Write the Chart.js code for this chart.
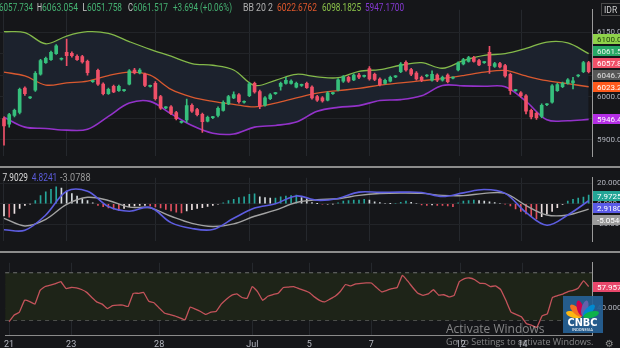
<!DOCTYPE html>
<html>
<head>
<meta charset="utf-8">
<script src="https://cdn.jsdelivr.net/npm/chart.js@4.4.1/dist/chart.umd.min.js"></script>
<style>
  html, body { margin: 0; padding: 0; background: #151619; }
  #wrap { position: relative; width: 620px; height: 348px; overflow: hidden; background: #151619; }
  canvas { position: absolute; left: 0; }
  .sep { position: absolute; left: 0; width: 620px; height: 2px; background: #8c8c8c; }
</style>
</head>
<body>
<div id="wrap">
  <canvas id="price" width="620" height="166" style="top:0"></canvas>
  <div class="sep" style="top:166px"></div>
  <canvas id="macd" width="620" height="83" style="top:168px"></canvas>
  <div class="sep" style="top:251px"></div>
  <canvas id="rsi" width="620" height="95" style="top:253px"></canvas>
</div>
<script>
// hourly bars, index 0..112; day marks on the time axis
const dayTicks = [0, 12, 29, 47, 58, 70, 87.3, 99.2];
const dayLabels = ['21', '23', '28', 'Jul', '5', '7', '12', '14'];

const opens = [
  5949, 5936, 5956, 5963, 6020, 5997, 6015, 6052, 6079, 6086,
  6100, 6087, 6103, 6101, 6094, 6093, 6082, 6035, 6061, 6029,
  6007, 6024, 6014, 6014, 6029, 6062, 6055, 6052, 6024, 6031,
  6000, 5974, 5976, 5963, 5940, 5946, 5980, 5970, 5959, 5943,
  5951, 5956, 5968, 5983, 5997, 6004, 5987, 6002, 6031, 6012,
  5980, 5995, 6007, 6024, 6031, 6031, 6022, 6026, 6031, 6022,
  6000, 5997, 5992, 6007, 6015, 6036, 6045, 6039, 6050, 6047,
  6065, 6052, 6041, 6031, 6036, 6046, 6058, 6080, 6063, 6055,
  6045, 6048, 6038, 6050, 6038, 6050, 6043, 6062, 6076, 6082,
  6091, 6084, 6079, 6103, 6070, 6077, 6072, 6052, 6014, 6009,
  6002, 5968, 5961, 5954, 5981, 5987, 6014, 6023, 6031, 6032,
  6048, 6058, 6079
];
const highs = [
  5953, 5961, 5971, 6020, 6023, 6000, 6058, 6087, 6092, 6106,
  6121, 6090, 6134, 6104, 6097, 6096, 6085, 6038, 6064, 6032,
  6020, 6027, 6027, 6017, 6063, 6066, 6065, 6055, 6027, 6035,
  6003, 5977, 5979, 5966, 5943, 5994, 5983, 5973, 5962, 5955,
  5954, 5976, 5990, 6003, 6011, 6007, 5990, 6033, 6034, 6015,
  6000, 6007, 6010, 6034, 6045, 6039, 6034, 6029, 6034, 6025,
  6003, 6000, 6012, 6010, 6042, 6049, 6048, 6053, 6054, 6050,
  6070, 6055, 6044, 6041, 6048, 6049, 6079, 6083, 6066, 6058,
  6048, 6051, 6060, 6053, 6048, 6053, 6046, 6081, 6089, 6094,
  6094, 6087, 6082, 6117, 6080, 6080, 6075, 6055, 6017, 6012,
  6005, 5971, 5964, 5983, 5984, 6028, 6031, 6034, 6042, 6045,
  6051, 6082, 6082
];
const lows = [
  5887, 5929, 5953, 5960, 6003, 5995, 6012, 6050, 6077, 6084,
  6098, 6085, 6072, 6092, 6084, 6078, 6050, 6033, 6026, 6004,
  6005, 6009, 6012, 6012, 6027, 6053, 6053, 6023, 6022, 5992,
  5970, 5972, 5958, 5946, 5938, 5940, 5963, 5955, 5917, 5941,
  5949, 5953, 5966, 5981, 5995, 5985, 5985, 6000, 6008, 5972,
  5978, 5993, 6005, 6015, 6029, 6029, 6020, 6024, 6019, 5994,
  5989, 5987, 5990, 6005, 6013, 6033, 6033, 6037, 6042, 6045,
  6038, 6037, 6025, 6029, 6034, 6044, 6056, 6059, 6049, 6038,
  6035, 6046, 6036, 6035, 6036, 6032, 6041, 6060, 6074, 6080,
  6080, 6072, 6077, 6054, 6068, 6067, 6045, 6005, 6012, 5999,
  5960, 5948, 5947, 5951, 5979, 5985, 6012, 6021, 6029, 6018,
  6046, 6056, 6055
];
const closes = [
  5932, 5958, 5968, 6017, 6007, 5998, 6054, 6084, 6089, 6103,
  6118, 6088, 6095, 6095, 6086, 6081, 6056, 6036, 6029, 6007,
  6017, 6011, 6024, 6015, 6060, 6055, 6062, 6026, 6025, 5995,
  5973, 5975, 5961, 5949, 5941, 5979, 5966, 5958, 5942, 5952,
  5952, 5973, 5987, 6000, 6005, 5988, 5988, 6030, 6011, 5978,
  5997, 6004, 6008, 6031, 6038, 6036, 6031, 6027, 6021, 5997,
  5992, 5990, 6009, 6008, 6039, 6046, 6036, 6050, 6045, 6048,
  6041, 6040, 6028, 6038, 6045, 6047, 6076, 6062, 6052, 6041,
  6038, 6049, 6052, 6038, 6045, 6035, 6044, 6078, 6086, 6091,
  6082, 6074, 6080, 6072, 6077, 6069, 6048, 6014, 6015, 6002,
  5966, 5953, 5951, 5980, 5982, 6025, 6028, 6031, 6039, 6037,
  6049, 6079, 6058
];

// Bollinger bands and MACD lines, read every 4th bar
const lineIdx = [0, 4, 8, 12, 16, 20, 24, 28, 32, 36, 40, 44, 48, 52, 56,
  60, 64, 68, 72, 76, 80, 84, 88, 92, 96, 100, 104, 108, 112];
const bbUpper = [6151, 6149, 6123, 6141, 6151, 6147, 6128, 6110, 6094, 6077,
  6073, 6062, 6026, 6038, 6052, 6046, 6044, 6059, 6063, 6073,
  6079, 6066, 6084, 6096, 6100, 6112, 6127, 6125, 6100];
const bbMiddle = [6057, 6048, 6027, 6032, 6036, 6049, 6057, 6050, 6017, 5999,
  5989, 5982, 5976, 5985, 5997, 6008, 6014, 6019, 6027, 6032,
  6037, 6042, 6049, 6057, 6061, 6048, 6037, 6030, 6023];
const bbLower = [5952, 5929, 5926, 5922, 5924, 5954, 5985, 5989, 5960, 5933,
  5915, 5913, 5929, 5933, 5941, 5966, 5975, 5979, 5991, 5993,
  6002, 6026, 6025, 6024, 6023, 5989, 5946, 5944, 5947];
const macdLine = [-25.2, -25.7, -10.9, 12.1, 12.1, -2.7, -7.2, -3.5, -18.3, -24,
  -25, -14.1, -4.2, 0, 7.6, 3.4, 5.2, 11.3, 11.1, 11.3,
  10.9, 7.1, 10.6, 13.8, 10.1, -8.4, -20.8, -10.9, 2.9];
const macdSignal = [-14.1, -21.5, -15.1, -0.6, 6.3, 3.2, -3.2, -4, -12.1, -19,
  -22, -19.5, -12.1, -6.2, 1.2, 3.9, 4.9, 8.1, 9.9, 10.4,
  10.1, 8.1, 7.9, 10.1, 10.1, -1.7, -10.9, -10.9, -5.2];
const macdHist = [
  -11.9, -13.1, -9.4, -4.4, -1.5, -0.2, 3.0, 7.9, 11.6, 14.1,
  16.5, 15.3, 12.4, 9.9, 7.4, 4.9, 3.0, 1.0, -1.5, -2.7,
  -4.0, -5.2, -6.4, -4.4, -2.7, -2.0, -1.5, -1.5, -2.0, -3.0,
  -4.0, -5.4, -6.9, -8.2, -8.9, -6.9, -5.7, -4.4, -3.7, -2.5,
  -1.5, -0.5, 1.0, 3.0, 4.2, 5.9, 6.7, 9.1, 9.6, 6.7,
  5.9, 5.4, 5.4, 6.7, 7.4, 7.9, 8.4, 5.9, 4.9, 1.2,
  0.2, -0.5, -0.5, -0.2, 1.0, 2.5, 3.0, 3.7, 3.7, 4.4,
  3.7, 2.0, 1.2, 0.5, 0.1, 0.5, 1.5, 2.5, 1.5, 0.5,
  -1.0, -1.5, -1.2, -1.5, -1.7, -2.2, -2.7, 1.0, 2.5, 3.2,
  3.7, 3.0, 2.5, 2.0, 1.2, 0.5, -0.2, -2.0, -4.9, -7.4,
  -9.9, -12.4, -14.8, -12.4, -9.9, -7.4, -3.7, -0.7, 2.5, 4.2,
  5.4, 6.4, 8.4
];
const rsiValues = [
  28.8, 34.4, 36.9, 46.8, 45.8, 43.6, 55.2, 58.4, 59.6, 60.9,
  62.6, 56.7, 57.6, 57.2, 55.9, 53.5, 49.2, 45.3, 43.6, 39.9,
  42.3, 42.8, 42.8, 41.6, 52.7, 52.7, 53.4, 46, 44.8, 40.4,
  36.2, 34.9, 33.7, 32, 30.5, 41.1, 39.4, 37.4, 34.9, 36.9,
  37.4, 43.6, 47.8, 51, 52.2, 49.2, 48.5, 58.4, 54.2, 46.8,
  50.2, 51.7, 52.7, 57.6, 57.9, 58.4, 56.7, 55.2, 53.4, 49.7,
  46.8, 45.5, 47.8, 50.2, 54.2, 60.1, 58.9, 60.6, 61.1, 61.4,
  61.4, 57.6, 53.9, 55.2, 56.7, 57.6, 67.8, 63.1, 57.6, 52.7,
  51, 52.2, 55.7, 51.2, 51.5, 49.7, 51, 62.6, 65.1, 65.6,
  64.1, 61.1, 60.9, 58.4, 58.9, 55.9, 46.8, 36.9, 34.9, 32.9,
  27, 25.8, 24.1, 33.7, 35.4, 49.2, 50.7, 52, 54.2, 55.2,
  57.2, 63.1, 58.4
];
const rsiLevels = [70, 30];

const priceTicks = [5900, 5950, 6000, 6050, 6100, 6150];
const macdTicks = [-20, 0, 20];
const rsiTicks = [40, 60];

const priceTagText = ['6100.0', '6061.5', '6057.8', '6046.7', '6023.2', '5946.4'];
const priceTagValue = [6098.1825, 6061.517, 6057.8, 6046.7, 6022.6762, 5947.17];
const macdTagText = ['7.9725', '2.9180', '-5.0546'];
const macdTagValue = [7.9725, 2.918, -5.0546];
const rsiTagText = ['57.9573'];
const rsiTagValue = [57.957];

// ---- styling ----
const GREEN = '#36bf7c', RED = '#ef5068';
const X_MIN = -0.766, X_MAX = 112.64;
Chart.defaults.font.family = 'Roboto';
Chart.defaults.animation = false;
Chart.defaults.plugins.legend.display = false;
Chart.defaults.plugins.tooltip.enabled = false;

const priceTagBg = ['#8fd24a', '#27a866', '#ef5068', '#575757', '#ff5a1c', '#b52ee6'];
const priceTagFg = ['#1d3a0c', '#e8f5ec', '#ffffff', '#e0e0e0', '#ffffff', '#ffffff'];
const macdTagBg = ['#23a596', '#5a5ae6', '#9a9a9a'];
const rsiTagBg = ['#e8476b'];

function xAxis(showLabels) {
  return {
    type: 'linear', min: X_MIN, max: X_MAX, offset: false,
    afterBuildTicks: s => { s.ticks = dayTicks.map(v => ({ value: v })); },
    afterFit: s => { s.height = showLabels ? 13 : 0; },
    grid: { color: '#25282d', drawTicks: false, offset: false },
    border: { display: showLabels, color: '#8a8a8a' },
    ticks: {
      display: showLabels, autoSkip: false, maxRotation: 0, padding: 4,
      color: '#b2b5be', font: { size: 9 },
      callback: (v, i) => dayLabels[i]
    }
  };
}

function yAxis(min, max, tickVals, digits) {
  return {
    position: 'right', min: min, max: max,
    afterBuildTicks: s => { s.ticks = tickVals.map(v => ({ value: v })); },
    afterFit: s => { s.width = 28; },
    grid: { color: '#222428', drawTicks: false },
    border: { display: true, color: '#9a9a9a' },
    ticks: { padding: 5, color: '#b2b5be', font: { size: 8 }, callback: v => v.toFixed(digits) }
  };
}

// coloured value tags on the price axis, pushed apart when they overlap
const sideTags = {
  id: 'sideTags',
  afterDraw(chart, args, opts) {
    if (!opts.items) return;
    const ctx = chart.ctx, ys = chart.scales.y, left = chart.chartArea.right;
    let tags = opts.items.map(t => Object.assign({}, t, { py: ys.getPixelForValue(t.value) }));
    if (opts.dir === 'up') {
      tags.sort((a, b) => b.py - a.py);
      for (let i = 1; i < tags.length; i++) tags[i].py = Math.min(tags[i].py, tags[i - 1].py - 12);
    } else {
      tags.sort((a, b) => a.py - b.py);
      for (let i = 1; i < tags.length; i++) tags[i].py = Math.max(tags[i].py, tags[i - 1].py + 12);
    }
    ctx.save();
    ctx.font = '8px Roboto';
    ctx.textBaseline = 'middle';
    tags.forEach(t => {
      ctx.fillStyle = t.bg;
      ctx.fillRect(left + 1, Math.round(t.py) - 5, 30, 10);
      ctx.fillStyle = t.fg || '#ffffff';
      ctx.fillText(t.text, left + 5, Math.round(t.py) + 0.5);
    });
    ctx.restore();
  }
};

const priceHeader = {
  id: 'priceHeader',
  afterDraw(chart) {
    const ctx = chart.ctx;
    const parts = [
      ['6057.734', -1, 34, '#45b272'], ['H', 37, 5, '#cfcfcf'], ['6063.054', 42, 36, '#45b272'],
      ['L', 82.5, 4.5, '#cfcfcf'], ['6051.758', 87, 35, '#45b272'], ['C', 128, 5, '#cfcfcf'],
      ['6061.517', 133, 35, '#45b272'], ['+3.694 (+0.06%)', 173, 59, '#45b272'],
      ['BB 20 2', 243, 30, '#b0b0b0'], ['6022.6762', 277, 40, '#e0582c'],
      ['6098.1825', 322, 39, '#8bc34a'], ['5947.1700', 365, 39, '#8439d0']
    ];
    ctx.save();
    ctx.font = '10px Roboto';
    ctx.textBaseline = 'alphabetic';
    parts.forEach(p => { ctx.fillStyle = p[3]; ctx.fillText(p[0], p[1], 11, p[2]); });
    // currency box
    ctx.strokeStyle = '#4a4a4a';
    ctx.lineWidth = 1;
    ctx.strokeRect(601.5, 3.5, 20, 12);
    ctx.fillStyle = '#d0d0d0';
    ctx.font = '8.5px Roboto';
    ctx.fillText('IDR', 604, 12.5);
    ctx.restore();
  }
};

const macdHeader = {
  id: 'macdHeader',
  afterDraw(chart) {
    const ctx = chart.ctx;
    ctx.save();
    ctx.font = '10px Roboto';
    [['7.9029', 2.5, 25.5, '#d9d9d9'], ['4.8241', 31.7, 25.6, '#5b5bd8'], ['-3.0788', 60, 30.5, '#9a9a9a']]
      .forEach(p => { ctx.fillStyle = p[3]; ctx.fillText(p[0], p[1], 13, p[2]); });
    ctx.restore();
  }
};

// screenshot overlays: broadcaster badge and OS watermark
const overlays = {
  id: 'overlays',
  afterDraw(chart) {
    const ctx = chart.ctx;
    ctx.save();
    ctx.fillStyle = 'rgba(38,98,150,0.92)';
    ctx.fillRect(563, 43, 40, 37);
    const cx = 582.5, cy = 64;
    ['#fcb711', '#f37021', '#cc004c', '#6460aa', '#0089d0', '#0db14b'].forEach((c, k) => {
      const a = Math.PI + (k + 0.5) * Math.PI / 6;
      ctx.save();
      ctx.translate(cx + Math.cos(a) * 9, cy + Math.sin(a) * 9);
      ctx.rotate(a);
      ctx.beginPath();
      ctx.ellipse(0, 0, 8, 3.2, 0, 0, Math.PI * 2);
      ctx.fillStyle = c;
      ctx.fill();
      ctx.restore();
    });
    ctx.fillStyle = '#ffffff';
    ctx.textAlign = 'center';
    ctx.font = 'bold 10px "DejaVu Sans"';
    ctx.fillText('CNBC', cx, 73, 30);
    ctx.font = '4px Roboto';
    ctx.fillText('INDONESIA', cx, 77.5, 24);
    ctx.textAlign = 'left';
    ctx.fillStyle = 'rgba(205,205,205,0.6)';
    ctx.font = '12px "Open Sans"';
    ctx.fillText('Activate Windows', 446, 80, 101);
    ctx.font = '9px "Open Sans"';
    ctx.fillText('Go to Settings to activate Windows.', 446, 92, 151);
    ctx.fillStyle = '#8a8a8a';
    ctx.font = '10px "DejaVu Sans"';
    ctx.fillText('\u2699', 605, 94);
    ctx.restore();
  }
};

const candleColor = opens.map((o, i) => closes[i] >= o ? GREEN : RED);
const histColors = macdHist.map((v, i) => {
  const prev = i ? macdHist[i - 1] : v;
  if (v >= 0) return v >= prev ? '#26a69a' : '#d5dbde';
  return v < prev ? '#e0505f' : '#ecdfe0';
});
const pts = (xs, ys) => xs.map((x, k) => ({ x: x, y: ys[k] }));
const lineStyle = { type: 'line', pointRadius: 0, borderWidth: 1.3, tension: 0.35 };

// higher order is painted first: band fill, then lower / basis lines, then candles
new Chart(document.getElementById('price'), {
  type: 'bar',
  data: {
    datasets: [
      Object.assign({}, lineStyle, { data: pts(lineIdx, bbUpper), borderColor: '#84b94a', fill: '+2', backgroundColor: '#1c222d', order: 5 }),
      Object.assign({}, lineStyle, { data: pts(lineIdx, bbMiddle), borderColor: '#d9592f', fill: false, order: 3 }),
      Object.assign({}, lineStyle, { data: pts(lineIdx, bbLower), borderColor: '#9332c9', borderWidth: 1.6, fill: false, order: 4 }),
      { type: 'bar', data: opens.map((o, i) => ({ x: i, y: [lows[i], highs[i]] })), backgroundColor: candleColor, barThickness: 1, grouped: false, order: 1 },
      { type: 'bar', data: opens.map((o, i) => ({ x: i, y: [o, closes[i]] })), backgroundColor: candleColor, barThickness: 3, minBarLength: 1, grouped: false, order: 0 }
    ]
  },
  options: {
    responsive: false, devicePixelRatio: 1, layout: { padding: 0 },
    scales: { x: xAxis(false), y: yAxis(5861.4, 6202, priceTicks, 1) },
    plugins: {
      sideTags: { dir: 'up', items: priceTagText.map((t, k) => ({ text: t, value: priceTagValue[k], bg: priceTagBg[k], fg: priceTagFg[k] })) }
    }
  },
  plugins: [sideTags, priceHeader]
});

new Chart(document.getElementById('macd'), {
  type: 'bar',
  data: {
    datasets: [
      Object.assign({}, lineStyle, { data: pts(lineIdx, macdLine), borderColor: '#5d5de0', borderWidth: 1.6, order: 0 }),
      Object.assign({}, lineStyle, { data: pts(lineIdx, macdSignal), borderColor: '#a3a3a3', borderWidth: 1.4, order: 1 }),
      { type: 'bar', data: macdHist.map((v, i) => ({ x: i, y: v })), backgroundColor: histColors, barThickness: 1, order: 2 }
    ]
  },
  options: {
    responsive: false, devicePixelRatio: 1, layout: { padding: 0 },
    scales: { x: xAxis(false), y: yAxis(-36.3, 25.19, macdTicks, 3) },
    plugins: {
      sideTags: { dir: 'down', items: macdTagText.map((t, k) => ({ text: t, value: macdTagValue[k], bg: macdTagBg[k] })) }
    }
  },
  plugins: [sideTags, macdHeader]
});

new Chart(document.getElementById('rsi'), {
  type: 'line',
  data: {
    datasets: [
      { data: [{ x: X_MIN, y: rsiLevels[0] }, { x: X_MAX, y: rsiLevels[0] }], borderColor: '#707070', borderWidth: 1, borderDash: [4, 4], pointRadius: 0, fill: '+1', backgroundColor: '#1e2418', order: 2 },
      { data: [{ x: X_MIN, y: rsiLevels[1] }, { x: X_MAX, y: rsiLevels[1] }], borderColor: '#707070', borderWidth: 1, borderDash: [4, 4], pointRadius: 0, fill: false, order: 2 },
      { data: rsiValues.map((v, i) => ({ x: i, y: v })), borderColor: '#c4535b', borderWidth: 1.3, pointRadius: 0, tension: 0.1, fill: false, order: 0 }
    ]
  },
  options: {
    responsive: false, devicePixelRatio: 1, layout: { padding: 0 },
    scales: { x: xAxis(true), y: yAxis(17.63, 78.37, rsiTicks, 3) },
    plugins: {
      sideTags: { dir: 'down', items: rsiTagText.map((t, k) => ({ text: t, value: rsiTagValue[k], bg: rsiTagBg[k] })) }
    }
  },
  plugins: [sideTags, overlays]
});
</script>
</body>
</html>
